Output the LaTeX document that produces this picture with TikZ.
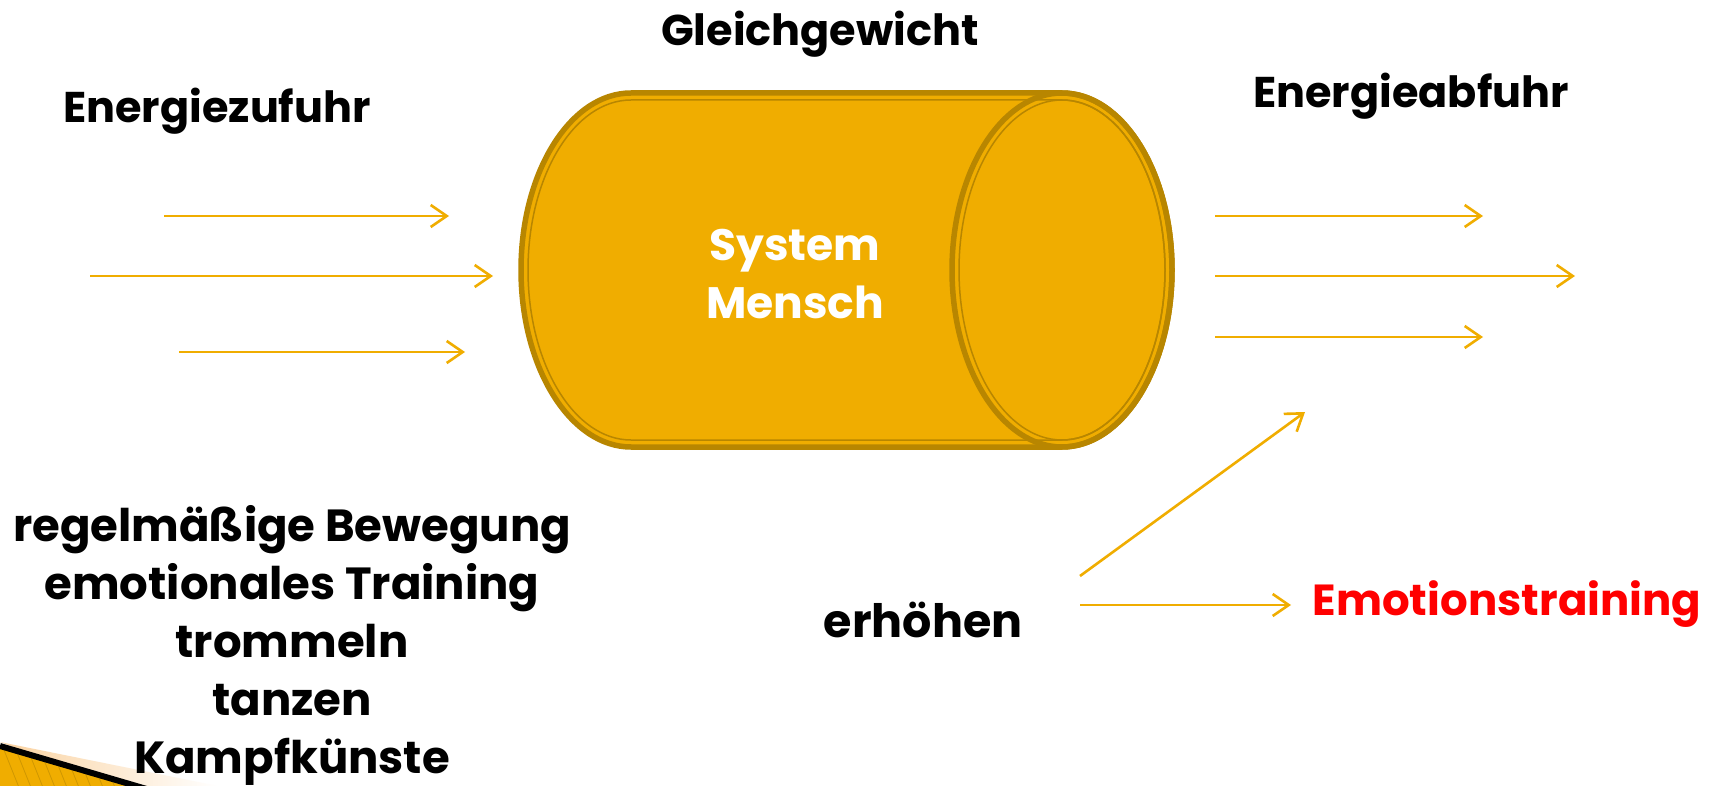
\documentclass[tikz,border=0pt]{standalone}
\usepackage{fontspec}
\setmainfont{Poppins}
\usetikzlibrary{arrows.meta}
\definecolor{gold}{RGB}{240,173,0}
\definecolor{golddark}{RGB}{184,134,0}
\definecolor{peach}{RGB}{250,210,160}
\definecolor{emored}{RGB}{255,0,0}
\newcommand\fsz[1]{\bfseries\fontsize{#1}{58}\selectfont}
\tikzset{
  flow/.style={draw=gold, line width=2.6pt, -{Straight Barb[length=16pt,width=22pt,line width=2.6pt]}},
  label/.style={font=\fsz{43}, text=black, inner sep=0pt},
}
\begin{document}
\begin{tikzpicture}[x=1pt,y=-1pt]
\useasboundingbox (0,0) rectangle (1719,786);
\fill[white] (0,0) rectangle (1719,786);

% corner ornament
\shade[left color=peach, right color=white] (0,742) -- (218,786) -- (120,786) -- cycle;
\fill[gold] (0,748) -- (145,786) -- (0,786) -- cycle;
\begin{scope}
  \clip (0,748) -- (145,786) -- (0,786) -- cycle;
  \foreach \s in {0,12,...,160}
    \draw[golddark!60!gold, line width=0.8pt] (\s,740) -- (\s+20,790);
\end{scope}
\draw[black, line width=6pt] (0,746) -- (150,790);

% cylinder
\def\cxa{631}\def\cxb{1062}\def\cy{270}\def\rx{110}\def\ry{177}
\filldraw[fill=gold, draw=golddark, line width=5.5pt]
  (\cxb,\cy-\ry) -- (\cxa,\cy-\ry) arc[start angle=270, end angle=90, x radius=\rx, y radius=\ry]
  -- (\cxb,\cy+\ry) arc[start angle=90, end angle=-90, x radius=\rx, y radius=\ry] -- cycle;
\draw[golddark, line width=1.5pt]
  (\cxb,\cy-\ry+7) -- (\cxa,\cy-\ry+7) arc[start angle=270, end angle=90, x radius=\rx-7, y radius=\ry-7]
  -- (\cxb,\cy+\ry-7) arc[start angle=90, end angle=-90, x radius=\rx-7, y radius=\ry-7];
\draw[golddark, line width=5.5pt] (\cxb,\cy) ellipse[x radius=\rx, y radius=\ry];
\draw[golddark, line width=1.5pt] (\cxb,\cy) ellipse[x radius=\rx-7, y radius=\ry-7];

% labels
\node[label] (gleich) at (820,34) {Gleichgewicht};
\node[label] (zufuhr) at (217,111) {Energiezufuhr};
\node[label] (abfuhr) at (1411,96) {Energieabfuhr};
\node[label, text=white, align=center, font=\fsz{44}] (system) at (795,274) {System\\Mensch};
\node[label, align=center, font=\fsz{45}] (methods) at (292,645)
  {regelmäßige Bewegung\\emotionales Training\\trommeln\\tanzen\\Kampfkünste};
\node[label, font=\fsz{46}] (erh) at (923,620) {erhöhen};
\node[label, text=emored, font=\fsz{43.5}] (emo) at (1507,604) {Emotionstraining};

% incoming energy
\coordinate (ia1) at (164,216); \coordinate (ib1) at (449,216);
\coordinate (ia2) at (90,276);  \coordinate (ib2) at (493,276);
\coordinate (ia3) at (179,352); \coordinate (ib3) at (465,352);
\draw[flow] (ia1) -- (ib1);
\draw[flow] (ia2) -- (ib2);
\draw[flow] (ia3) -- (ib3);

% outgoing energy
\coordinate (oa1) at (1215,216); \coordinate (ob1) at (1483,216);
\coordinate (oa2) at (1215,276); \coordinate (ob2) at (1575,276);
\coordinate (oa3) at (1215,337); \coordinate (ob3) at (1483,337);
\draw[flow] (oa1) -- (ob1);
\draw[flow] (oa2) -- (ob2);
\draw[flow] (oa3) -- (ob3);

% raising the outflow
\coordinate (ra) at (1080,576); \coordinate (rb) at (1305,412);
\coordinate (ha) at (1080,605); \coordinate (hb) at (1291,605);
\draw[flow] (ra) -- (rb);
\draw[flow] (ha) -- (hb);
\end{tikzpicture}
\end{document}
